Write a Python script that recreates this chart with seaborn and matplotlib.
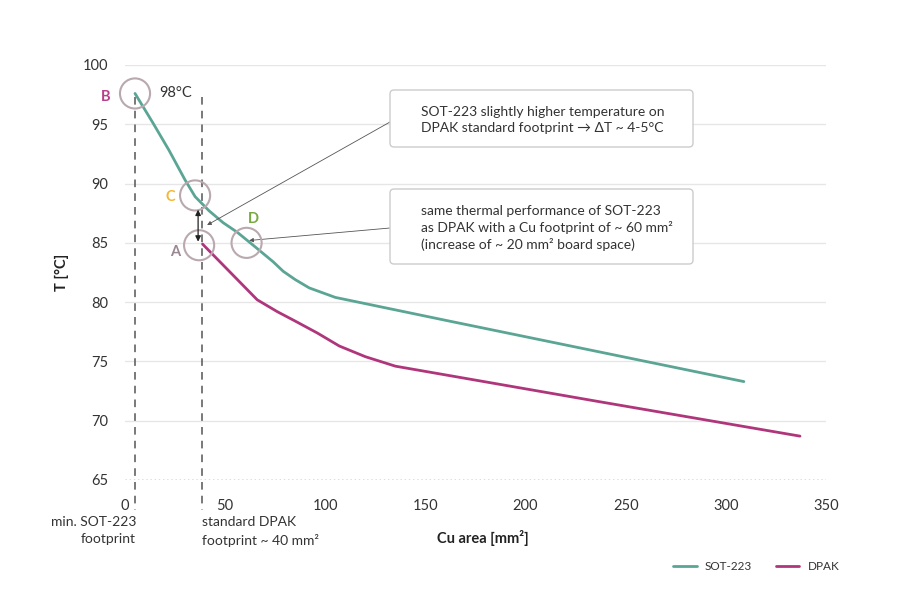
import matplotlib
matplotlib.use("Agg")
import matplotlib.pyplot as plt
import seaborn as sns
import pandas as pd
from matplotlib.patches import FancyBboxPatch
from matplotlib.lines import Line2D

# ---- data ----
sot_x = [5, 14, 22, 30, 35, 42, 49, 56, 64, 74, 79, 85, 92, 105, 162, 309]
sot_t = [97.6, 95.1, 92.8, 90.3, 88.9, 87.7, 86.7, 85.9, 84.8, 83.4, 82.6, 81.9, 81.2, 80.4, 78.4, 73.3]
dpak_x = [38.7, 66, 76, 85, 96, 107, 120, 135, 237, 337]
dpak_t = [84.9, 80.2, 79.2, 78.4, 77.4, 76.3, 75.4, 74.6, 71.6, 68.7]
series_names = ["SOT-223", "DPAK"]
series_colors = ["#5ba595", "#b0367c"]

x_ticks = [0, 50, 100, 150, 200, 250, 300, 350]
y_ticks = [65, 70, 75, 80, 85, 90, 95, 100]

marker_labels = ["B", "C", "A", "D"]
marker_x = [5, 35, 37, 60.7]
marker_t = [97.6, 89.0, 84.8, 85.0]
marker_label_colors = ["#b8408a", "#f5b731", "#9a8690", "#78a840"]
marker_label_x = [-9.5, 22.5, 25, 64]
marker_label_t = [97.3, 88.9, 84.2, 87.0]

footprint_x = [5, 38.5]
footprint_labels = ["min. SOT-223\nfootprint", "standard DPAK\nfootprint ~ 40 mm²"]

box1_text = "SOT-223 slightly higher temperature on\nDPAK standard footprint → ΔT ~ 4-5°C"
box2_text = "same thermal performance of SOT-223\nas DPAK with a Cu footprint of ~ 60 mm²\n(increase of ~ 20 mm² board space)"

df = pd.concat([
    pd.DataFrame({"x": sot_x, "T": sot_t, "series": series_names[0]}),
    pd.DataFrame({"x": dpak_x, "T": dpak_t, "series": series_names[1]}),
])

sns.set_theme(style="white")
plt.rcParams["font.family"] = ["Lato", "DejaVu Sans"]

W, H = 900, 600
fig = plt.figure(figsize=(9, 6), dpi=100)
ax = fig.add_axes([125 / W, 1 - 480 / H, (826 - 125) / W, (480 - 65) / H])

pal = dict(zip(series_names, series_colors))
sns.lineplot(data=df, x="x", y="T", hue="series", palette=pal, ax=ax,
             linewidth=2.0, legend=False, sort=True, estimator=None, zorder=3)

ax.set_xlim(0, 350)
ax.set_ylim(65, 100)
for s in ax.spines.values():
    s.set_visible(False)
ax.set_xticks(x_ticks)
ax.set_yticks(y_ticks)
ax.tick_params(length=0, labelsize=10.5, colors="#333333", pad=12)
ax.tick_params(axis="x", pad=14)
for yv in y_ticks[1:]:
    ax.axhline(yv, color="#e6e6e6", lw=1, zorder=0)
ax.axhline(65, color="#555555", lw=1, ls=(0, (1, 2)), zorder=1)
ax.set_xlabel("")
ax.set_ylabel("")

# vertical dashed footprint lines
for fx in footprint_x:
    ax.plot([fx, fx], [97.3, 62.5], color="#555555", lw=1.1, ls=(0, (5, 4)),
            clip_on=False, zorder=2)

# footprint labels
ax.text(5.5, 62.0, footprint_labels[0], ha="right", va="top", fontsize=10,
        color="#333333", linespacing=1.55)
ax.text(38.5, 62.0, footprint_labels[1], ha="left", va="top", fontsize=10,
        color="#333333", linespacing=1.55)

# axis titles
fig.text(62 / W, 1 - 272 / H, "T [°C]", rotation=90, ha="center", va="center",
         fontsize=10.5, fontweight="bold", color="#222222")
fig.text(483 / W, 1 - 538 / H, "Cu area [mm²]", ha="center", va="center",
         fontsize=10.5, fontweight="bold", color="#222222")

# circles
ax.scatter(marker_x, marker_t, s=470, facecolors="none", edgecolors="#b9a9ae",
           linewidths=1.5, zorder=4, clip_on=False)
for lab, lx, lt, c in zip(marker_labels, marker_label_x, marker_label_t, marker_label_colors):
    ax.text(lx, lt, lab, ha="center", va="center", fontsize=10.5, fontweight="bold",
            color=c, clip_on=False)
ax.text(17, 97.6, "98°C", ha="left", va="center", fontsize=10.5, color="#333333")

# double arrow
ax.annotate("", xy=(36.5, 85.1), xytext=(36.5, 87.8),
            arrowprops=dict(arrowstyle="<|-|>", color="#222222", lw=0.9,
                            mutation_scale=8, shrinkA=0, shrinkB=0), zorder=5)

# boxes (pixel coordinates -> inches)
tr = fig.dpi_scale_trans
def px(x, y):
    return (x / 100.0, (H - y) / 100.0)

for (x0, y0, x1, y1) in [(390, 90, 693, 147), (390, 189, 693, 264)]:
    bx, by = px(x0, y1)
    fig.patches.append(FancyBboxPatch((bx, by), (x1 - x0) / 100.0, (y1 - y0) / 100.0,
                                      boxstyle="round,pad=0,rounding_size=0.04",
                                      transform=tr, facecolor="white",
                                      edgecolor="#cccccc", lw=1, zorder=5))
fig.text(421 / W, 1 - 120 / H, box1_text, ha="left", va="center", fontsize=10,
         color="#333333", linespacing=1.5, zorder=6)
fig.text(421 / W, 1 - 228 / H, box2_text, ha="left", va="center", fontsize=10,
         color="#333333", linespacing=1.4, zorder=6)

# annotation arrows from boxes
ax.annotate("", xy=(41, 86.5), xycoords="data", xytext=px(390, 122), textcoords=tr,
            arrowprops=dict(arrowstyle="-|>", color="#555555", lw=0.6,
                            mutation_scale=6, shrinkA=0, shrinkB=0))
ax.annotate("", xy=(62, 85.2), xycoords="data", xytext=px(390, 228), textcoords=tr,
            arrowprops=dict(arrowstyle="-|>", color="#555555", lw=0.6,
                            mutation_scale=6, shrinkA=0, shrinkB=0))

# legend
handles = [Line2D([0], [0], color=c, lw=2) for c in series_colors]
fig.legend(handles, series_names, loc="center right", bbox_to_anchor=(850 / W, 1 - 567 / H),
           ncol=2, frameon=False, fontsize=8.5, handlelength=2.0, columnspacing=2.0,
           handletextpad=0.7, labelcolor="#333333")

fig.savefig("out.png", dpi=100)
